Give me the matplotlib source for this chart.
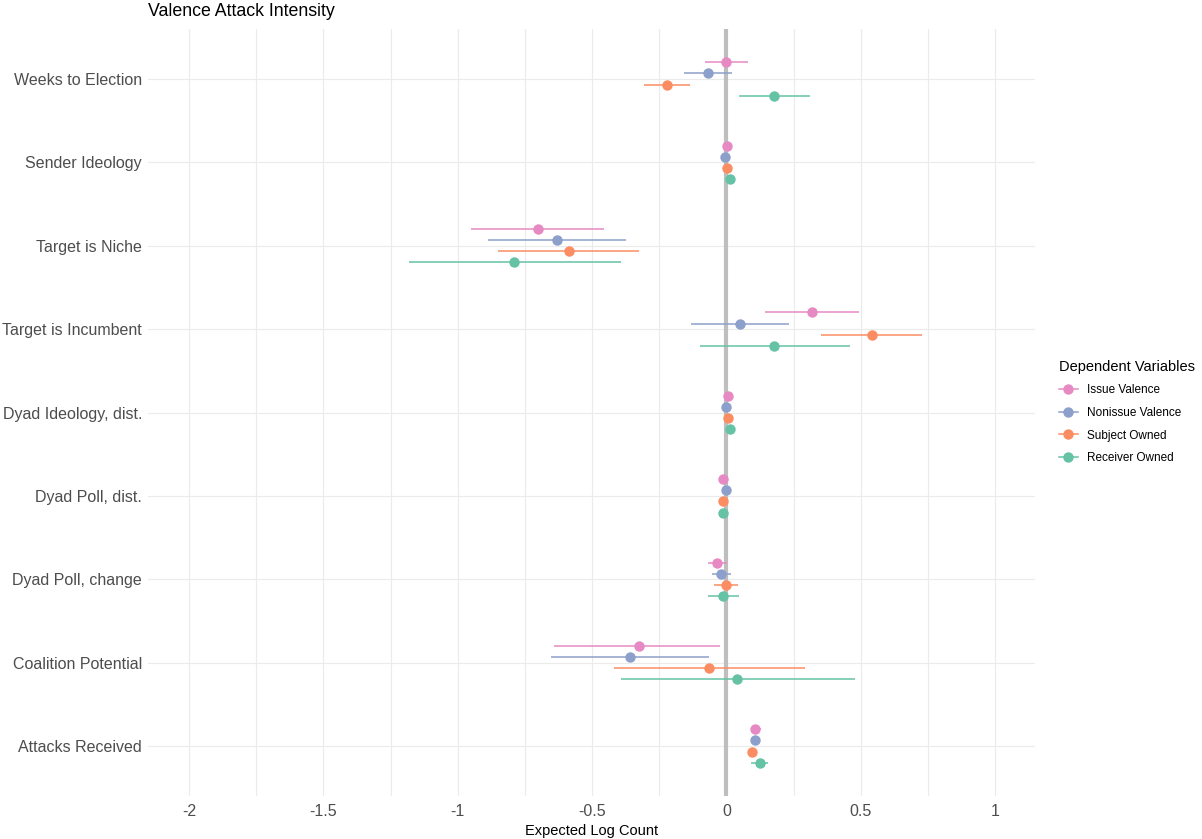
import matplotlib

matplotlib.use("Agg")
import matplotlib.pyplot as plt  # noqa: E402
import numpy as np  # noqa: E402
from matplotlib.lines import Line2D  # noqa: E402

plt.rcParams["font.family"] = ["Liberation Sans", "DejaVu Sans"]

predictors = ["Weeks to Election", "Sender Ideology", "Target is Niche",
              "Target is Incumbent", "Dyad Ideology, dist.", "Dyad Poll, dist.",
              "Dyad Poll, change", "Coalition Potential", "Attacks Received"]
models = ["Issue Valence", "Nonissue Valence", "Subject Owned", "Receiver Owned"]
colors = ["#E78AC3", "#8DA0CB", "#FC8D62", "#66C2A5"]

# point estimates, one list per model (same order as predictors)
est = {
    "Issue Valence":    [0.000, 0.001, -0.700, 0.320, 0.006, -0.011, -0.033, -0.327, 0.108],
    "Nonissue Valence": [-0.067, -0.005, -0.629, 0.052, -0.001, -0.003, -0.019, -0.357, 0.106],
    "Subject Owned":    [-0.220, 0.002, -0.584, 0.543, 0.008, -0.011, 0.000, -0.063, 0.094],
    "Receiver Owned":   [0.179, 0.015, -0.789, 0.179, 0.012, -0.011, -0.011, 0.041, 0.124],
}
lower = {
    "Issue Valence":    [-0.080, -0.004, -0.949, 0.145, 0.002, -0.015, -0.070, -0.640, 0.090],
    "Nonissue Valence": [-0.156, -0.010, -0.886, -0.130, -0.005, -0.007, -0.052, -0.651, 0.092],
    "Subject Owned":    [-0.305, -0.003, -0.849, 0.354, 0.004, -0.015, -0.045, -0.417, 0.080],
    "Receiver Owned":   [0.048, 0.010, -1.183, -0.097, 0.008, -0.015, -0.070, -0.394, 0.093],
}
upper = {
    "Issue Valence":    [0.080, 0.006, -0.454, 0.495, 0.010, -0.007, 0.004, -0.022, 0.130],
    "Nonissue Valence": [0.022, 0.000, -0.372, 0.234, 0.003, 0.001, 0.019, -0.063, 0.120],
    "Subject Owned":    [-0.134, 0.007, -0.324, 0.729, 0.012, -0.007, 0.045, 0.294, 0.108],
    "Receiver Owned":   [0.313, 0.020, -0.391, 0.461, 0.016, -0.007, 0.048, 0.480, 0.156],
}

fig = plt.figure(figsize=(12.02, 8.39), dpi=100)
ax = fig.add_axes([148 / 1202, 1 - 796 / 839, (1035 - 148) / 1202, (796 - 29) / 839])

GRID = "#EBEBEB"
ax.set_xlim(-2.153, 1.149)
ax.set_ylim(len(predictors) - 0.4, -0.6)
for v in np.arange(-2, 1.01, 0.25):
    ax.axvline(v, color=GRID, lw=0.8, zorder=0)
for i in range(len(predictors)):
    ax.axhline(i, color=GRID, lw=0.8, zorder=0)
ax.axvline(0, color="#BEBEBE", lw=3.0, zorder=1)

offsets = [-0.2, -0.0667, 0.0667, 0.2]
pos = np.arange(len(predictors))
for m, c, off in zip(models, colors, offsets):
    y = pos + off
    ax.hlines(y, lower[m], upper[m], color=c, lw=1.1, zorder=3)
    ax.plot(est[m], y, "o", color=c, ms=7.5, mec="none", zorder=4)

ax.set_yticks(pos)
ax.set_yticklabels(predictors)
ax.set_xticks([-2, -1.5, -1, -0.5, 0, 0.5, 1])
ax.set_xticklabels(["-2", "-1.5", "-1", "-0.5", "0", "0.5", "1"])
ax.tick_params(length=0, labelsize=11.5, colors="#4D4D4D")
ax.tick_params(axis="y", pad=4.3)
ax.tick_params(axis="x", pad=6)
for s in ax.spines.values():
    s.set_visible(False)

ax.set_xlabel("Expected Log Count", fontsize=10.5, labelpad=3)
fig.text(148 / 1202, 1 - 12 / 839, "Valence Attack Intensity", fontsize=12.8,
         ha="left", va="center")

handles = [Line2D([0], [0], color=c, lw=1.1, marker="o", ms=7.5, mec="none")
           for c in colors]
leg = fig.legend(handles, models, loc="upper left",
                 bbox_to_anchor=(1048 / 1202, 1 - 349 / 839), frameon=False,
                 title="Dependent Variables", fontsize=8.5, title_fontsize=10.5,
                 handlelength=1.6, labelspacing=0.9, alignment="left")

fig.savefig("out.png", dpi=100, facecolor="white")
